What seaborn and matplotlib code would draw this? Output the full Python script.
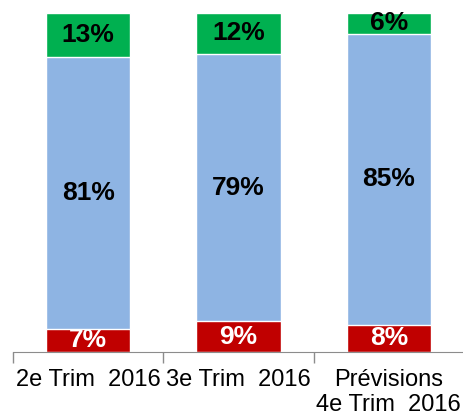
import pandas as pd
import seaborn as sns
import matplotlib.pyplot as plt

# Data
categories = ['2e Trim  2016', '3e Trim  2016', 'Prévisions\n4e Trim  2016']
rouge = [7, 9, 8]
bleu = [81, 79, 85]
vert = [13, 12, 6]

df = pd.DataFrame({'cat': categories, 'rouge': rouge, 'bleu': bleu, 'vert': vert})
tot = df[['rouge', 'bleu', 'vert']].sum(axis=1)
# stacked shares, normalised to 100 %
df['h_rouge'] = df['rouge'] / tot * 100
df['h_bleu'] = df['h_rouge'] + df['bleu'] / tot * 100
df['h_vert'] = df['h_bleu'] + df['vert'] / tot * 100

sns.set_style('white')
plt.rcParams['font.family'] = ['Liberation Sans', 'DejaVu Sans']

fig = plt.figure(figsize=(4.63, 4.19), dpi=100)
ax = fig.add_axes([13 / 463, 67 / 419, 451 / 463, 339 / 419])

# draw from the top segment down so each bar covers the one behind it
sns.barplot(data=df, x='cat', y='h_vert', color='#00B050', width=0.56, ax=ax, saturation=1)
sns.barplot(data=df, x='cat', y='h_bleu', color='#8EB4E3', width=0.56, ax=ax, saturation=1)
sns.barplot(data=df, x='cat', y='h_rouge', color='#C00000', width=0.56, ax=ax, saturation=1)

for i, row in df.iterrows():
    ax.text(i, row['h_rouge'] / 2, f"{row['rouge']}%", ha='center', va='center',
            color='white', fontsize=19, fontweight='bold')
    ax.text(i, (row['h_rouge'] + row['h_bleu']) / 2, f"{row['bleu']}%", ha='center', va='center',
            color='black', fontsize=19, fontweight='bold')
    ax.text(i, (row['h_bleu'] + row['h_vert']) / 2, f"{row['vert']}%", ha='center', va='center',
            color='black', fontsize=19, fontweight='bold')

ax.set_ylim(0, 100)
ax.set_xlim(-0.5, 2.5)
ax.set_xlabel('')
ax.set_ylabel('')
ax.set_yticks([])
for s in ['top', 'right', 'left']:
    ax.spines[s].set_visible(False)
ax.spines['bottom'].set_color('#8c8c8c')

ax.set_xticks([-0.5, 0.5, 1.5, 2.5], minor=True)
ax.tick_params(axis='x', which='minor', bottom=True, length=8, color='#8c8c8c', width=1, direction='out')
ax.tick_params(axis='x', which='major', bottom=True, length=0, pad=12, labelsize=17, labelcolor='black')

fig.savefig('out.png', dpi=100)
